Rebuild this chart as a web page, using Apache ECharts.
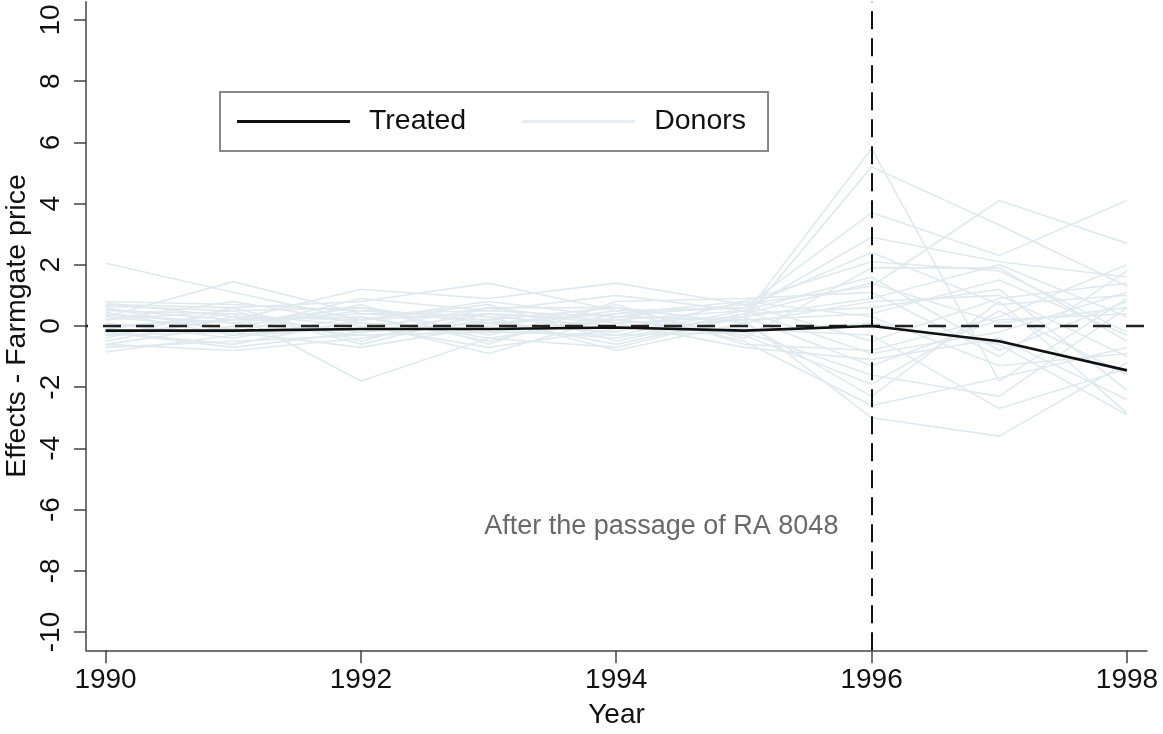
<!DOCTYPE html>
<html>
<head>
<meta charset="utf-8">
<script src="https://cdn.jsdelivr.net/npm/echarts@6/dist/echarts.min.js"></script>
<style>html,body{margin:0;padding:0;background:#fff}#c{width:1163px;height:734px}</style>
</head>
<body>
<div id="c"></div>
<script>
const years = [1990, 1991, 1992, 1993, 1994, 1995, 1996, 1997, 1998];
const xTicks = [1990, 1992, 1994, 1996, 1998];
const yTicks = [-10, -8, -6, -4, -2, 0, 2, 4, 6, 8, 10];
const treated = [-0.15, -0.15, -0.1, -0.1, -0.05, -0.15, 0.0, -0.5, -1.45];
const donors = [
  [2.05, 1.1, 0.2, 0.4, 0.1, 0.3, 5.8, -1.8, 0.9],
  [0.3, 1.45, 0.4, 0.5, 0.3, 0.2, 5.2, 3.3, 1.3],
  [0.7, 0.6, 0.8, 1.4, 0.5, 0.6, 3.7, 2.3, 4.1],
  [-0.3, 0.2, 1.2, 0.9, 1.4, 0.7, 1.3, 4.1, 2.7],
  [0.5, 0.4, -1.8, -0.4, 0.2, 0.5, 2.9, 2.1, 1.6],
  [-0.85, -0.3, 0.1, -0.9, 0.3, 0.2, -3.0, -3.6, -1.2],
  [0.8, 0.7, 0.5, 0.3, -0.8, 0.1, -2.3, 0.8, -2.85],
  [-0.6, -0.8, -0.4, 0.2, 0.6, -0.4, 1.9, 1.9, -0.5],
  [0.6, -0.2, 0.7, -0.6, 0.8, 0.9, 1.1, -1.0, 1.8],
  [0.2, 0.5, -0.6, 0.4, -0.3, -0.2, -1.6, -2.3, 0.6],
  [-0.2, -0.6, 0.2, 0.7, -0.5, 0.4, 0.6, 1.2, -2.1],
  [0.4, 0.1, 0.6, -0.3, 0.7, -0.6, -0.8, 0.3, 2.0],
  [-0.5, 0.3, -0.2, 0.1, -0.2, 0.8, 0.3, -1.3, -0.9],
  [0.1, -0.4, 0.3, -0.5, 0.4, 0.6, 2.4, 0.7, 1.0],
  [-0.4, 0.6, -0.5, 0.6, 0.1, -0.7, -1.1, -0.4, -2.4],
  [0.55, 0.2, 0.4, 0.2, -0.6, 0.3, 0.9, 2.0, 0.3],
  [-0.7, -0.5, -0.3, -0.2, 0.2, -0.3, -1.9, 0.5, -1.6],
  [0.3, -0.1, 0.9, 0.5, 1.0, 0.5, 1.6, -0.8, 0.8],
  [-0.1, 0.4, 0.0, -0.7, -0.1, 0.2, 0.4, 1.5, -0.3],
  [0.75, 0.3, 0.2, 0.8, 0.3, 0.7, -0.5, 0.9, 1.4],
  [-0.3, -0.2, -0.7, 0.0, 0.5, -0.5, -2.6, -1.7, -0.7],
  [0.2, 0.8, 0.1, -0.1, -0.4, 0.4, 1.4, 0.1, 0.6],
  [-0.6, 0.0, 0.5, 0.3, 0.0, -0.1, -0.3, -2.7, -1.4],
  [0.45, -0.3, -0.1, 0.6, 0.6, 0.1, 0.8, 1.0, -1.0],
  [0.0, 0.2, 0.3, -0.4, -0.7, 0.3, -1.3, 0.2, 0.4],
  [0.65, 0.5, 0.6, 0.1, 0.4, 0.8, 2.1, 1.8, -0.2],
  [-0.2, -0.7, -0.2, 0.4, 0.2, -0.2, 0.1, -0.6, -2.9],
  [0.35, 0.1, -0.3, -0.2, -0.3, 0.5, -0.9, -0.2, 1.1]
];
const treatYear = 1996;
const noteText = 'After the passage of RA 8048';
const notePos = [1995.74, -6.57];

const FONT = 'Liberation Sans, Arial, Helvetica, sans-serif';
const donorColor = '#e0eaee';
const series = [];
donors.forEach(function (d) {
  series.push({
    name: 'Donors', type: 'line', symbol: 'none', silent: true, z: 2,
    data: years.map(function (y, i) { return [y, d[i]]; }),
    lineStyle: { color: donorColor, width: 1.6 },
    itemStyle: { color: donorColor }
  });
});
series.push({
  name: 'Treated', type: 'line', symbol: 'none', z: 5,
  data: years.map(function (y, i) { return [y, treated[i]]; }),
  lineStyle: { color: '#111', width: 2.6 },
  itemStyle: { color: '#111' },
  markLine: {
    silent: true, symbol: ['none', 'none'], z: 4,
    label: { show: false },
    data: [
      { yAxis: 0, lineStyle: { color: '#222', width: 2.3, type: [18, 15], dashOffset: -17 } },
      { xAxis: treatYear, lineStyle: { color: '#111', width: 2, type: [18, 9] } }
    ]
  }
});
series.push({
  name: 'note', type: 'scatter', symbolSize: 0, silent: true, z: 6,
  data: [notePos],
  label: {
    show: true, position: 'left', distance: 0, formatter: noteText,
    color: '#444', fontSize: 27, fontFamily: FONT
  }
});

const chart = echarts.init(document.getElementById('c'), null, { renderer: 'canvas' });
chart.setOption({
  backgroundColor: '#fff',
  animation: false,
  grid: { left: 86, right: 16, top: 1.64, bottom: 83.66, containLabel: false, outerBoundsMode: 'none' },
  legend: {
    data: [
      { name: 'Treated', icon: 'rect', itemStyle: { color: '#111' } },
      { name: 'Donors', icon: 'rect', itemStyle: { color: '#e6eef1' } }
    ],
    left: 220, top: 92,
    orient: 'horizontal',
    itemWidth: 113, itemHeight: 3, itemGap: 56,
    padding: [15, 22, 15, 17],
    borderColor: '#888', borderWidth: 2, borderRadius: 0,
    backgroundColor: '#fff',
    textStyle: { color: '#111', fontSize: 28.5, fontFamily: FONT, padding: [0, 0, 0, 14] },
    selectedMode: false
  },
  xAxis: {
    type: 'value', min: 1989.847, max: 1998.157,
    name: 'Year', nameLocation: 'middle', nameGap: 51, nameMoveOverlap: false,
    nameTextStyle: { color: '#111', fontSize: 28, fontFamily: FONT },
    axisLine: { show: true, onZero: false, lineStyle: { color: '#444', width: 1.5 } },
    axisTick: { show: true, length: 13, customValues: xTicks, lineStyle: { color: '#444', width: 1.5 } },
    axisLabel: { customValues: xTicks, color: '#111', fontSize: 28, fontFamily: FONT, margin: 16,
      formatter: function (v) { return String(v); } },
    splitLine: { show: false }
  },
  yAxis: {
    type: 'value', min: -10.6, max: 10.6,
    name: 'Effects - Farmgate price', nameLocation: 'middle', nameGap: 54, nameMoveOverlap: false,
    nameTextStyle: { color: '#111', fontSize: 28.5, fontFamily: FONT },
    axisLine: { show: true, onZero: false, lineStyle: { color: '#444', width: 1.5 } },
    axisTick: { show: true, length: 12, customValues: yTicks, lineStyle: { color: '#444', width: 1.5 } },
    axisLabel: { customValues: yTicks, rotate: 90, color: '#111', fontSize: 28, fontFamily: FONT, margin: 21,
      formatter: function (v) { return String(v); } },
    splitLine: { show: false }
  },
  series: series
});
</script>
</body>
</html>
